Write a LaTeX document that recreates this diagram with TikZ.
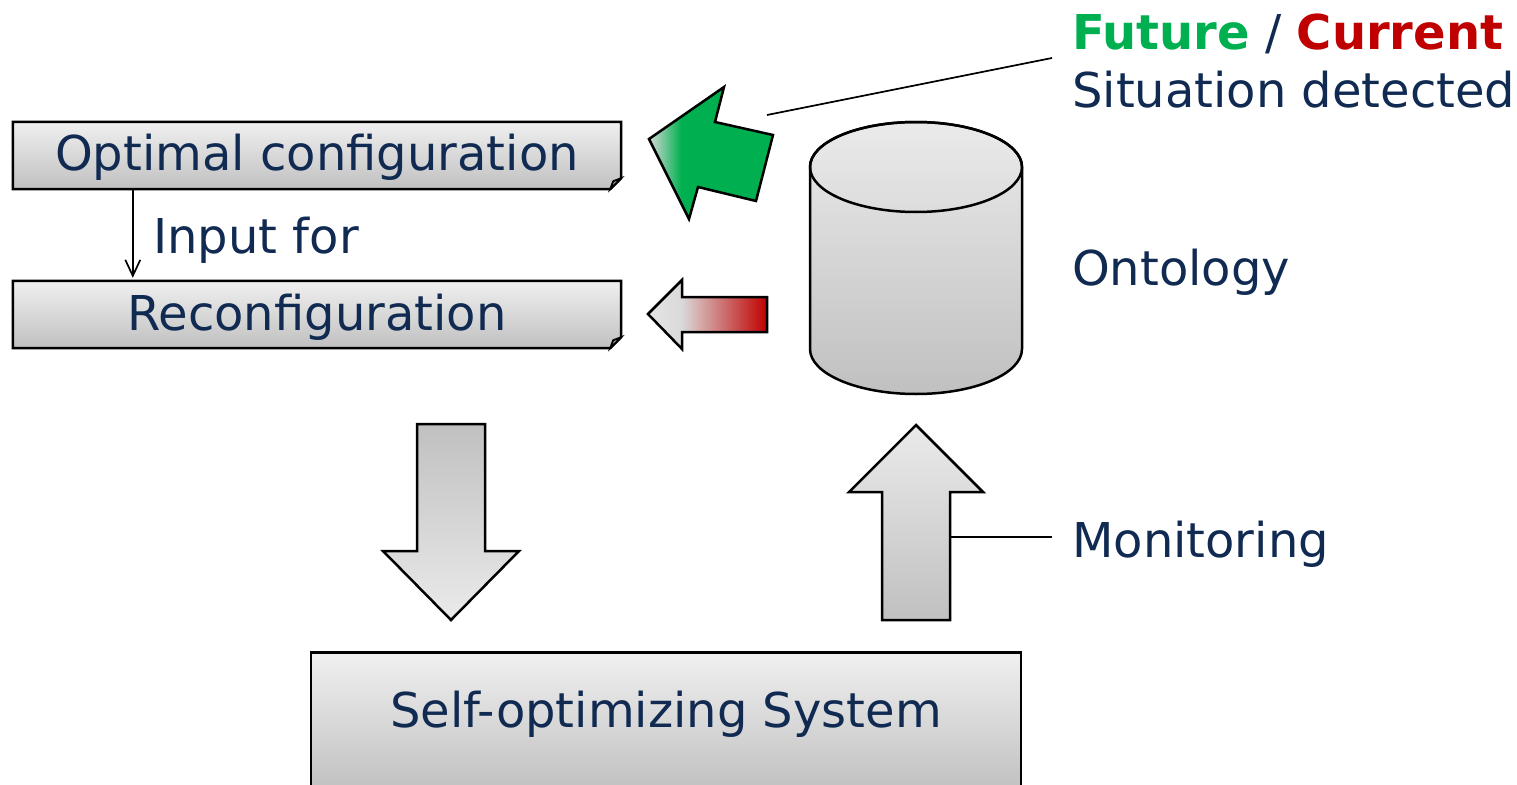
\documentclass[tikz,border=0pt]{standalone}
\usepackage{fontspec}
\setmainfont{DejaVu Sans}
\usetikzlibrary{arrows.meta, backgrounds}

\definecolor{navy}{HTML}{102A52}
\definecolor{fgreen}{HTML}{00B050}
\definecolor{fred}{HTML}{C00000}
\definecolor{lightg}{HTML}{F0F0F0}
\definecolor{darkg}{HTML}{C0C0C0}
\definecolor{tipg}{HTML}{D6D9D6}

% horizontal fades used by the two situation arrows
\pgfdeclarehorizontalshading{greenfade}{100bp}{color(0bp)=(tipg); color(25bp)=(tipg); color(38bp)=(fgreen); color(100bp)=(fgreen)}
\pgfdeclarehorizontalshading{redfade}{100bp}{color(0bp)=(lightg!90!gray); color(25bp)=(lightg!90!gray); color(39bp)=(lightg!80!gray); color(75bp)=(fred); color(100bp)=(fred)}

\tikzset{
  outline/.style={draw=black, line width=2.5pt, line join=miter},
  panel/.style={rectangle, inner sep=0pt, font=\fontsize{48}{56}\selectfont, text=navy, align=center},
  grayfill/.style={top color=lightg, bottom color=darkg},
  label/.style={inner sep=0pt, font=\fontsize{48}{56}\selectfont, text=navy, anchor=base west},
  thin/.style={draw=black, line width=1.7pt},
}

\begin{document}
\begin{tikzpicture}[x=1pt, y=-1pt]
\useasboundingbox (0,0) rectangle (1517,784);

% ---- configuration panels with folded corner ----
\node[panel, minimum width=608pt, text height=48pt, text depth=19pt] (opt) at (317,155.5) {Optimal configuration};
\node[panel, minimum width=608pt, text height=49pt, text depth=18pt] (reconf) at (317,314.5) {Reconfiguration};

\begin{scope}[on background layer]
\foreach \n in {opt, reconf}{
  \path[outline, grayfill] (\n.north west) -- (\n.north east) -- ([yshift=11pt]\n.south east)
        -- ([xshift=-11pt]\n.south east) -- (\n.south west) -- cycle;
  \path[outline, line width=1.8pt, fill=gray!75] ([yshift=11pt]\n.south east) -- ([xshift=-11pt]\n.south east)
        -- ([xshift=-8pt,yshift=8pt]\n.south east) -- cycle;
}
\end{scope}

\draw[thin, -{Straight Barb[length=16pt, width=15pt, line width=1.7pt]}]
  ([xshift=120pt]opt.south west) -- ([xshift=120pt,yshift=3pt]reconf.north west);
\node[label] (inputfor) at (153,253) {Input for};

% ---- self-optimizing system ----
\node[panel, minimum width=710pt, text height=75pt, text depth=64pt, outline, grayfill] (sys) at (666,651) [anchor=north] {Self-optimizing System};

% ---- ontology cylinder ----
\path[outline, top color=lightg!95!gray, bottom color=darkg]
  (810,167) -- (810,349) arc[start angle=180, end angle=0, x radius=106, y radius=45]
  -- (1022,167) arc[start angle=0, end angle=-180, x radius=106, y radius=45] -- cycle;
\draw[line width=2.5pt] (916,167) ellipse[x radius=106, y radius=45];
\node[label] (ontolabel) at (1072,285) {Ontology};

% ---- situation arrows ----
\path[outline, shading=greenfade]
  (649,139) -- (724,87) -- (715,122) -- (773,135) -- (756,201) -- (698,187) -- (689,219) -- cycle;
\path[outline, shading=redfade]
  (648,314) -- (682,280) -- (682,297) -- (767,297) -- (767,332) -- (682,332) -- (682,349) -- cycle;
\coordinate (greenarrow) at (767,115);

\node[label] (future) at (1072,50) {\textbf{\textcolor{fgreen}{Future}} / \textbf{\textcolor{fred}{Current}}};
\node[label] (situation) at (1072,107) {Situation detected};
\coordinate (calloutend) at (1052,58);
\draw[thin] (greenarrow) -- (calloutend);

% ---- big block arrows ----
\path[outline, top color=darkg, bottom color=lightg!95!gray]
  (417,424) -- (485,424) -- (485,551) -- (519,551) -- (451,620) -- (383,551) -- (417,551) -- cycle;
\path[outline, top color=lightg!95!gray, bottom color=darkg]
  (916,425) -- (983,492) -- (950,492) -- (950,620) -- (882,620) -- (882,492) -- (849,492) -- cycle;
\coordinate (upedge) at (950,537);
\coordinate (monend) at (1052,537);
\node[label] (monitoring) at (1072,557) {Monitoring};
\draw[thin] (upedge) -- (monend);
\end{tikzpicture}
\end{document}
